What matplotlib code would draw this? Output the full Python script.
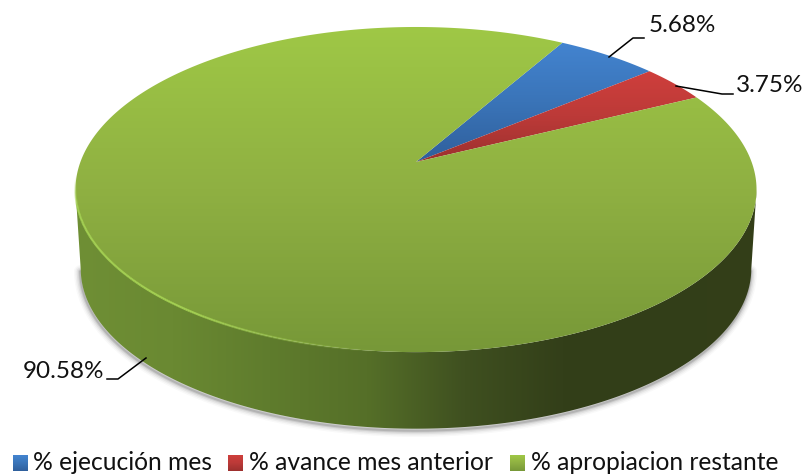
import numpy as np
import matplotlib
matplotlib.use('Agg')
import matplotlib.pyplot as plt
from matplotlib.colors import LinearSegmentedColormap, to_rgb
from matplotlib.collections import LineCollection
from matplotlib.patches import Polygon

categories = ['% ejecución mes', '% avance mes anterior', '% apropiacion restante']
values = [5.68, 3.75, 90.58]
labels = ['5.68%', '3.75%', '90.58%']

plt.rcParams['font.family'] = ['Lato', 'DejaVu Sans']

W, H = 806, 475
fig = plt.figure(figsize=(W / 100, H / 100), dpi=100)
ax = fig.add_axes([0, 0, 1, 1])
ax.set_xlim(0, W)
ax.set_ylim(H, 0)
ax.axis('off')

# perspective of the pie disc, fitted from the picture
XC, YC = 416, 162
A, B, K = 335.6, 157.9, 0.1695
START = 30
DEPTH = 80


def rim(deg, scale=1.0, dy=0):
    t = np.radians(deg)
    u, v = scale * np.sin(t), scale * np.cos(t)
    d = 1 + K * v
    return XC + A * u / d, YC - B * v / d + dy


def gradient(poly, stops, horizontal=False, zorder=2):
    # fill a polygon with a linear gradient, clipped to its outline
    cmap = LinearSegmentedColormap.from_list('g', stops)
    g = np.linspace(0, 1, 256)
    g = g.reshape(1, -1) if horizontal else g.reshape(-1, 1)
    xs, ys = poly[:, 0], poly[:, 1]
    im = ax.imshow(g, cmap=cmap, extent=(xs.min(), xs.max(), ys.max(), ys.min()),
                   aspect='auto', zorder=zorder, interpolation='bilinear')
    p = Polygon(poly, closed=True, fc='none', ec='none', transform=ax.transData)
    ax.add_patch(p)
    im.set_clip_path(p)
    ax.set_xlim(0, W)
    ax.set_ylim(H, 0)


# side of the body runs between the two widest points of the disc
front = np.linspace(99.8, 260.2, 400)
fx, fy = rim(front)
gx, gy = rim(front, scale=0.985, dy=DEPTH)
side = np.vstack([np.column_stack([fx, fy]), np.column_stack([gx[::-1], gy[::-1]])])

# soft shadow under the body
for lw, al in zip([9, 7, 5, 3, 1.5], [0.03, 0.05, 0.08, 0.12, 0.18]):
    ax.plot(gx - 0.5, gy + 2, color='#404040', lw=lw, alpha=al, zorder=1, solid_capstyle='round')

gradient(side, ['#6f8f35', '#6a8932', '#5f7c2d', '#556f28', '#3f5020', '#333f19', '#323e18', '#343f19'],
         horizontal=True)

# top of the pie, one wedge per value
total = sum(values)
colors = [['#4384d0', '#3a74b8', '#2f5f9c'], ['#cf3f3c', '#bc3a38', '#9c302e'], ['#9fc846', '#8fb042', '#779838']]
edges = START + np.cumsum([0] + values) / total * 360
for i, c in enumerate(colors):
    d = np.linspace(edges[i], edges[i + 1], 400)
    x, y = rim(d)
    poly = np.vstack([[XC, YC], np.column_stack([x, y])])
    gradient(poly, c, zorder=3)

# light bevel along the front left edge of the top
d = np.linspace(185, 265, 200)
x, y = rim(d)
pts = np.column_stack([x, y]).reshape(-1, 1, 2)
segs = np.concatenate([pts[:-1], pts[1:]], axis=1)
rgba = np.zeros((len(segs), 4))
rgba[:, :3] = to_rgb('#a6d452')
rgba[:, 3] = 0.9 * np.clip((d[:-1] - 185) / 30, 0, 1) * np.clip((265 - d[:-1]) / 12, 0, 1)
ax.add_collection(LineCollection(segs, colors=rgba, linewidths=1.6, zorder=4))
ax.set_xlim(0, W)
ax.set_ylim(H, 0)

# leader lines and value labels
leaders = [([609, 633, 644], [57, 38, 38]), ([676, 722, 733], [86, 94, 94]), ([146, 118, 107], [358, 379, 379])]
label_pos = [(682, 25), (770, 86), (63, 372)]
for (lx, ly), (px, py), t in zip(leaders, label_pos, labels):
    ax.plot(lx, ly, color='black', lw=1.1, zorder=5)
    ax.text(px, py, t, ha='center', va='center', fontsize=17.5, color='#111111', zorder=6)

# legend
swatch_x = [13, 228, 510]
text_x = [33, 249, 531]
for sx, tx0, c, name in zip(swatch_x, text_x, colors, categories):
    poly = np.array([[sx, 455], [sx + 15, 455], [sx + 15, 471], [sx, 471]], float)
    gradient(poly, c, zorder=3)
    ax.text(tx0, 462, name, ha='left', va='center', fontsize=17.7, color='#111111')

fig.savefig('out.png', dpi=100, facecolor='white')
